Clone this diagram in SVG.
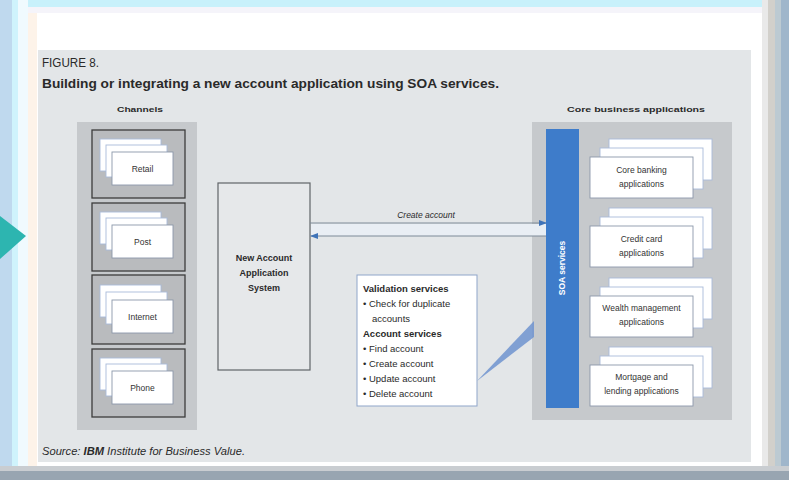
<svg xmlns="http://www.w3.org/2000/svg" width="789" height="480" viewBox="0 0 789 480">
<defs>
<style>
.t{font-family:"Liberation Sans",Arial,sans-serif;fill:#2a2a2a}
.b{font-weight:bold}
.lbl{font-family:"Liberation Sans",Arial,sans-serif;font-size:8.5px;fill:#333;text-anchor:middle}
.cbox{fill:#b9bbbe;stroke:#3c3c3c;stroke-width:1.3}
.pg{fill:#fff;stroke:#a9bbd9;stroke-width:0.9}
.pgf{fill:#fff;stroke:#8c98aa;stroke-width:0.9}
.conn{stroke:#7d8a98;stroke-width:1;fill:none}
</style>
<marker id="ah" markerWidth="8" markerHeight="6" refX="7" refY="3" orient="auto" markerUnits="userSpaceOnUse">
<path d="M0,0 L8,3 L0,6 z" fill="#3f73b8"/>
</marker>
</defs>

<!-- frame -->
<rect x="0" y="0" width="789" height="480" fill="#ffffff"/>
<rect x="0" y="0" width="789" height="7" fill="#c8f1fb"/>
<rect x="0" y="7" width="789" height="6" fill="#f5f4fa"/>
<rect x="0" y="0" width="12" height="480" fill="#bfd9ee"/>
<rect x="12" y="0" width="6" height="480" fill="#cff3fc"/>
<rect x="18" y="0" width="10" height="480" fill="#f0fafe"/>
<rect x="28" y="13" width="9" height="455" fill="#fdf3e9"/>
<rect x="762" y="0" width="6" height="480" fill="#e9e9e9"/>
<rect x="768" y="0" width="7" height="480" fill="#d2d0cb"/>
<rect x="775" y="0" width="6" height="480" fill="#bccad2"/>
<rect x="781" y="0" width="8" height="480" fill="#9fb6cb"/>
<rect x="0" y="466" width="789" height="5" fill="#c9cdd1"/>
<rect x="0" y="471" width="789" height="9" fill="#98a5b1"/>
<polygon points="0,216 26,236 0,259" fill="#2db5b0"/>

<!-- panel -->
<rect x="38" y="50" width="713" height="412" fill="#e3e6e8"/>

<text class="t" x="42" y="67" font-size="12" textLength="57" lengthAdjust="spacingAndGlyphs">FIGURE 8.</text>
<text class="t b" x="42" y="88" font-size="13" textLength="457" lengthAdjust="spacingAndGlyphs">Building or integrating a new account application using SOA services.</text>
<text class="t b" x="117" y="112" font-size="8" textLength="46" lengthAdjust="spacingAndGlyphs">Channels</text>
<text class="t b" x="567" y="112" font-size="8" textLength="138" lengthAdjust="spacingAndGlyphs">Core business applications</text>
<text class="t" x="42" y="455" font-size="10" font-style="italic" fill="#444" textLength="203" lengthAdjust="spacingAndGlyphs">Source: <tspan font-weight="bold">IBM</tspan> Institute for Business Value.</text>

<!-- channels panel -->
<g id="channels">
<rect x="77" y="122" width="120" height="308" fill="#c6c9cc"/>
<g id="retail" transform="translate(0,130)">
<rect class="cbox" x="92" y="0" width="93" height="68"/>
<rect class="pg" x="100" y="9" width="61" height="32"/>
<rect class="pg" x="106" y="15" width="61" height="32"/>
<rect class="pgf" x="112" y="22" width="61" height="33"/>
<text class="lbl" x="142.5" y="42">Retail</text>
</g>
<g id="post" transform="translate(0,203)">
<rect class="cbox" x="92" y="0" width="93" height="68"/>
<rect class="pg" x="100" y="9" width="61" height="32"/>
<rect class="pg" x="106" y="15" width="61" height="32"/>
<rect class="pgf" x="112" y="22" width="61" height="33"/>
<text class="lbl" x="142.5" y="42">Post</text>
</g>
<g id="internet" transform="translate(0,275)">
<rect class="cbox" x="92" y="0" width="93" height="69"/>
<rect class="pg" x="100" y="10" width="61" height="32"/>
<rect class="pg" x="106" y="17" width="61" height="32"/>
<rect class="pgf" x="112" y="25" width="61" height="33"/>
<text class="lbl" x="142.5" y="45">Internet</text>
</g>
<g id="phone" transform="translate(0,349)">
<rect class="cbox" x="92" y="0" width="93" height="68"/>
<rect class="pg" x="100" y="9" width="61" height="32"/>
<rect class="pg" x="106" y="15" width="61" height="32"/>
<rect class="pgf" x="112" y="22" width="61" height="33"/>
<text class="lbl" x="142.5" y="42">Phone</text>
</g>
</g>

<!-- new account system -->
<g id="new-account">
<rect x="218" y="183" width="92" height="187" fill="#e6e8ea" stroke="#606468" stroke-width="1.2"/>
<text class="t b" font-size="9" text-anchor="middle" x="264" y="261">New Account</text>
<text class="t b" font-size="9" text-anchor="middle" x="264" y="276">Application</text>
<text class="t b" font-size="9" text-anchor="middle" x="264" y="291">System</text>
</g>

<!-- core business panel -->
<g id="core">
<rect x="532" y="122" width="200" height="298" fill="#c6c9cc"/>
<g id="soa">
<rect x="546" y="129" width="33" height="279" fill="#3e7cca"/>
<text class="b" font-family="Liberation Sans, Arial, sans-serif" font-size="8.5" fill="#ffffff" text-anchor="middle" transform="translate(565,268) rotate(-90)">SOA services</text>
</g>
<g id="core-banking" transform="translate(0,139)">
<rect class="pg" x="609" y="0" width="103" height="41"/>
<rect class="pg" x="600" y="9" width="103" height="41"/>
<rect class="pgf" x="590" y="18" width="103" height="41"/>
<text class="lbl" x="641.5" y="34">Core banking</text>
<text class="lbl" x="641.5" y="48">applications</text>
</g>
<g id="credit-card" transform="translate(0,208)">
<rect class="pg" x="609" y="0" width="103" height="41"/>
<rect class="pg" x="600" y="9" width="103" height="41"/>
<rect class="pgf" x="590" y="18" width="103" height="41"/>
<text class="lbl" x="641.5" y="34">Credit card</text>
<text class="lbl" x="641.5" y="48">applications</text>
</g>
<g id="wealth" transform="translate(0,278)">
<rect class="pg" x="609" y="0" width="103" height="41"/>
<rect class="pg" x="600" y="9" width="103" height="41"/>
<rect class="pgf" x="590" y="18" width="103" height="41"/>
<text class="lbl" x="641.5" y="33">Wealth management</text>
<text class="lbl" x="641.5" y="47">applications</text>
</g>
<g id="mortgage" transform="translate(0,347)">
<rect class="pg" x="609" y="0" width="103" height="41"/>
<rect class="pg" x="600" y="9" width="103" height="41"/>
<rect class="pgf" x="590" y="18" width="103" height="41"/>
<text class="lbl" x="641.5" y="33">Mortgage and</text>
<text class="lbl" x="641.5" y="47">lending applications</text>
</g>
</g>

<!-- connectors -->
<g id="connectors">
<rect x="311" y="224" width="235" height="12" fill="#e9eef4"/>
<line class="conn" x1="310" y1="223" x2="546" y2="223" marker-end="url(#ah)"/>
<line class="conn" x1="546" y1="236" x2="311" y2="236" marker-end="url(#ah)"/>
<text class="t" x="426" y="218" font-size="8.5" font-style="italic" text-anchor="middle">Create account</text>
<polygon points="477,381 534,321 534,337" fill="#6f93cf" opacity="0.85"/>
</g>

<!-- validation callout -->
<g id="services">
<rect x="357" y="275" width="120" height="131" fill="#ffffff" stroke="#8fa5c9" stroke-width="1"/>
<text class="t" font-size="9.5" x="363" y="292" font-weight="bold">Validation services</text>
<text class="t" font-size="9.5" x="363" y="307">• Check for duplicate</text>
<text class="t" font-size="9.5" x="372" y="322">accounts</text>
<text class="t" font-size="9.5" x="363" y="337" font-weight="bold">Account services</text>
<text class="t" font-size="9.5" x="363" y="352">• Find account</text>
<text class="t" font-size="9.5" x="363" y="367">• Create account</text>
<text class="t" font-size="9.5" x="363" y="382">• Update account</text>
<text class="t" font-size="9.5" x="363" y="397">• Delete account</text>
</g>
</svg>
